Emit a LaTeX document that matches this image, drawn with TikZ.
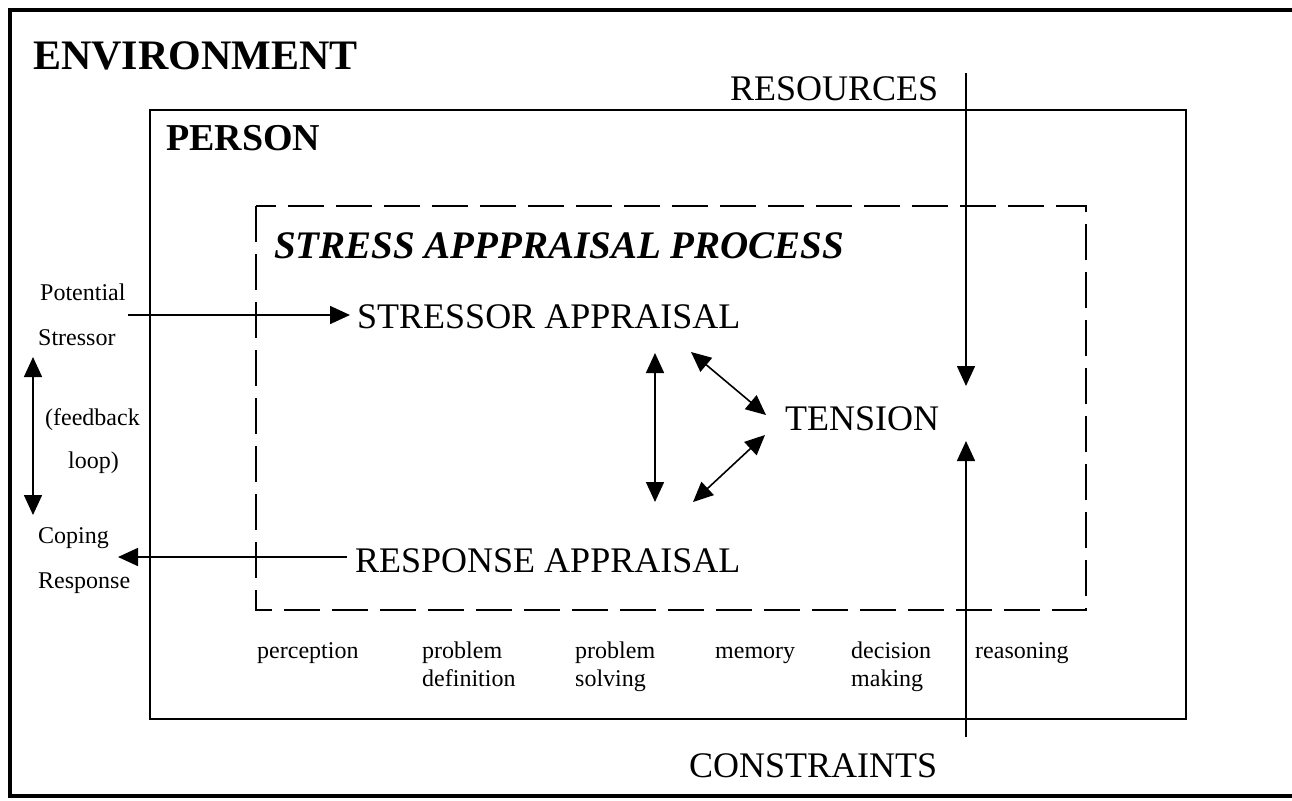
\documentclass[tikz,border=0pt]{standalone}
\usepackage{fontspec}
\setmainfont{Liberation Serif}
\usetikzlibrary{arrows.meta}
\tikzset{
  big/.style={font=\fontsize{36}{40}\selectfont, inner sep=0pt, anchor=base west},
  small/.style={font=\fontsize{24}{28}\selectfont, inner sep=0pt, anchor=base west, align=left},
  arr/.style={line width=1.6pt, -{Triangle[length=20pt,width=18pt]}},
  darr/.style={line width=1.6pt, {Triangle[length=20pt,width=18pt]}-{Triangle[length=20pt,width=18pt]}},
  frame/.style={line width=4.5pt},
  personbox/.style={line width=1.8pt},
  stressbox/.style={line width=1.8pt, dash pattern=on 36pt off 12pt},
}
\begin{document}
\begin{tikzpicture}[x=1pt,y=-1pt]
\useasboundingbox (0,0) rectangle (1292,800);
% outer environment frame (open at right)
\draw[frame] (1292,10) -- (10,10) -- (10,796) -- (1292,796);
% person box
\draw[personbox] (150,110) rectangle (1186,719);
% stress appraisal process box
\draw[stressbox] (256,206) rectangle (1086,610);

% titles
\node[font=\fontsize{42}{46}\selectfont\bfseries, inner sep=0pt, anchor=base west] (env) at (33,70) {ENVIRONMENT};
\node[font=\fontsize{38}{42}\selectfont\bfseries, inner sep=0pt, anchor=base west] (person) at (166,150) {PERSON};
\node[font=\fontsize{39}{43}\selectfont\bfseries\itshape, inner sep=0pt, anchor=base west] (sap) at (274,258) {STRESS APPPRAISAL PROCESS};

% main nodes
\node[big] (sa) at (357,328) {STRESSOR APPRAISAL};
\node[big] (ra) at (355,572) {RESPONSE APPRAISAL};
\node[big] (ten) at (785,430) {TENSION};
\node[big] (res) at (730,100) {RESOURCES};
\node[big] (con) at (689,777) {CONSTRAINTS};

% left labels
\node[small] (pot) at (40,300) {Potential};
\node[small] (str) at (38,345) {Stressor};
\node[small] (fb) at (45,425) {(feedback};
\node[small] (loop) at (68,468) {loop)};
\node[small] (cop) at (38,543) {Coping};
\node[small] (resp) at (38,588) {Response};

% bottom labels (two-line nodes are placed by the baseline of their last line)
\node[small] (perc) at (257,658) {perception};
\node[small] (pdef) at (422,686) {problem\\definition};
\node[small] (psol) at (575,686) {problem\\solving};
\node[small] (mem) at (715,658) {memory};
\node[small] (dec) at (851,686) {decision\\making};
\node[small] (reas) at (975,658) {reasoning};

% coordinates for free ends
\coordinate (psStart) at (128,315);
\coordinate (psEnd) at (350,315);
\coordinate (copStart) at (347,557);
\coordinate (copEnd) at (118,557);
\coordinate (fbTop) at (33,357);
\coordinate (fbBot) at (33,515);
\coordinate (vTop) at (655,353);
\coordinate (vBot) at (655,502);
\coordinate (d1a) at (691,352);
\coordinate (d1b) at (766,415);
\coordinate (d2a) at (765,435);
\coordinate (d2b) at (693,502);
\coordinate (resTop) at (966,73);
\coordinate (resTip) at (966,386);
\coordinate (conBot) at (966,737);
\coordinate (conTip) at (966,441);

% connectors
\draw[arr] (psStart) -- (psEnd);
\draw[arr] (copStart) -- (copEnd);
\draw[darr] (fbTop) -- (fbBot);
\draw[darr] (vTop) -- (vBot);
\draw[darr] (d1a) -- (d1b);
\draw[darr] (d2a) -- (d2b);
\draw[arr] (resTop) -- (resTip);
\draw[arr] (conBot) -- (conTip);
\end{tikzpicture}
\end{document}
